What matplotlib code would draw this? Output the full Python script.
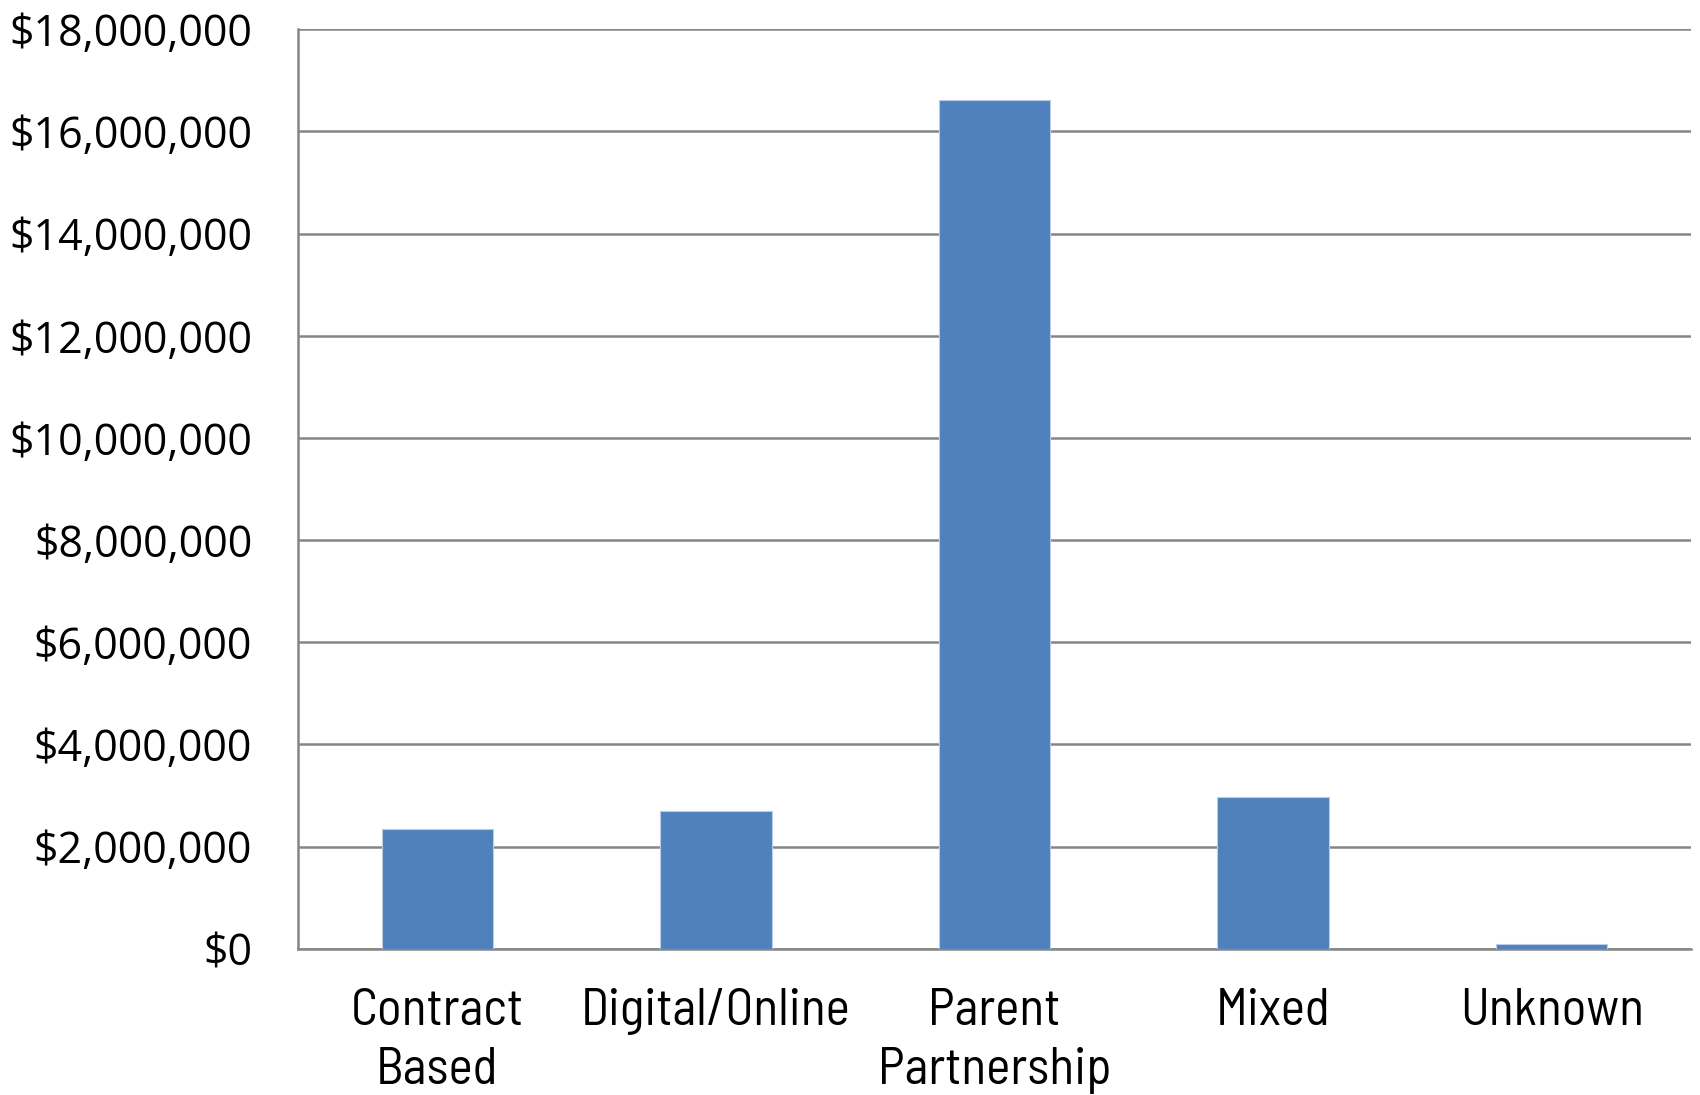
import matplotlib
matplotlib.use("Agg")
import matplotlib.pyplot as plt
from matplotlib.ticker import FuncFormatter, MultipleLocator

# Funding by delivery model
categories = ["Contract\nBased", "Digital/Online", "Parent\nPartnership", "Mixed", "Unknown"]
funding = [2_340_000, 2_690_000, 16_610_000, 2_970_000, 100_000]

fig = plt.figure(figsize=(17, 10.95), dpi=100)
ax = fig.add_axes([0.1753, 0.1336, 0.8194, 0.8396])

x = range(len(categories))
ax.bar(x, funding, width=0.4, color="#4F81BD", edgecolor="#B9CDE5", linewidth=0.8, zorder=3)

ax.set_xlim(-0.5, len(categories) - 0.5)
ax.set_ylim(0, 18_000_000)
ax.yaxis.set_major_locator(MultipleLocator(2_000_000))
ax.yaxis.set_major_formatter(FuncFormatter(lambda v, _: f"${v:,.0f}"))
ax.grid(axis="y", color="#868686", linewidth=1.8, zorder=0)
ax.set_axisbelow(True)

for side in ("top", "right"):
    ax.spines[side].set_visible(False)
for side in ("left", "bottom"):
    ax.spines[side].set_color("#868686")
    ax.spines[side].set_linewidth(1.8)

ax.set_xticks(list(x))
ax.set_xticklabels(categories, fontsize=37,
                   family=["Barlow Semi Condensed", "Archivo Narrow", "DejaVu Sans"],
                   linespacing=1.33)
ax.tick_params(axis="x", length=0, pad=28)
ax.tick_params(axis="y", length=0, pad=33)
for lbl in ax.get_yticklabels():
    lbl.set_fontfamily(["Open Sans", "DejaVu Sans"])
    lbl.set_fontsize(31)

fig.savefig("out.png", dpi=100, facecolor="white")
